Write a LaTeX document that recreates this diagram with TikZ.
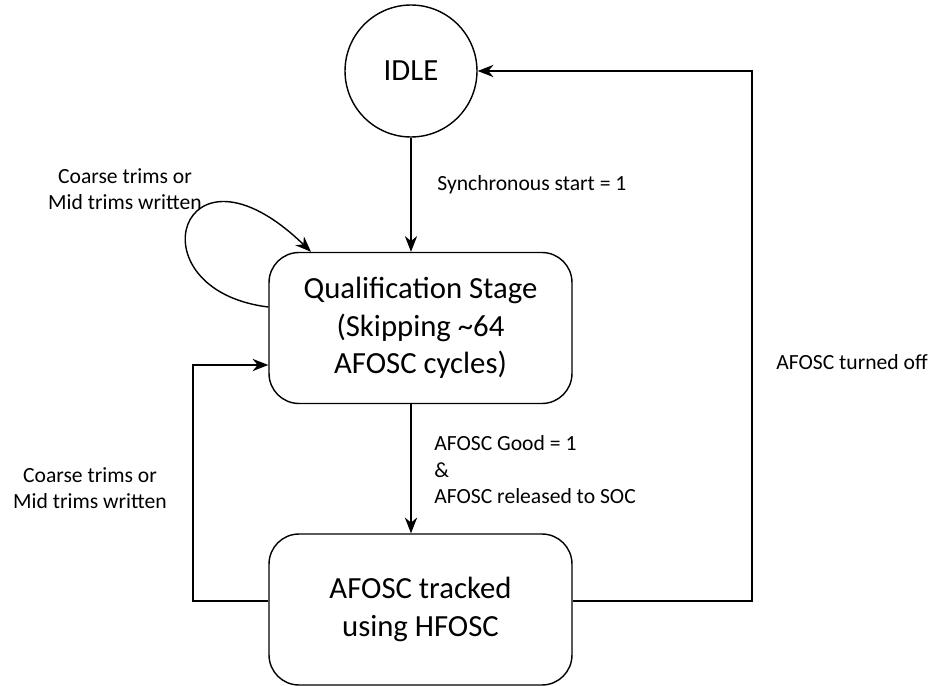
\documentclass[tikz,border=0pt]{standalone}
\usepackage{fontspec}
\setmainfont{Carlito}
\usetikzlibrary{arrows.meta, positioning}

\begin{document}
\begin{tikzpicture}[
  x=0.02cm, y=-0.02cm,
  every node/.style={align=center},
  state/.style={draw, circle, thick, minimum size=2.64cm, inner sep=0pt, font=\fontsize{17.5}{21}\selectfont},
  stage/.style={draw, thick, rounded corners=0.6cm, minimum width=6.06cm, minimum height=3.02cm, inner sep=0pt, font=\fontsize{17.5}{21.3}\selectfont},
  lbl/.style={inner sep=0pt, font=\fontsize{12.3}{15.1}\selectfont},
  arrow/.style={-{Stealth[length=9pt,width=7pt]}, thick}
]
  \useasboundingbox (0,0) rectangle (933,686);

  % States
  \node[state] (idle) at (411,71) {IDLE};
  \node[stage] (qual) at (420.5,328) {Qualification Stage\\(Skipping \textasciitilde 64\\AFOSC cycles)};
  \node[stage] (track) at (420.5,609.5) {AFOSC tracked\\using HFOSC};

  % Corners of the return paths
  \coordinate (rbot) at (752,601);
  \coordinate (rtop) at (752,71);
  \coordinate (lbot) at (193,601);
  \coordinate (ltop) at (193,365);
  \coordinate (loopout) at (0,307);
  \coordinate (loopin) at (311,0);

  % Transitions
  \draw[arrow] (idle) -- (idle.south |- qual.north);
  \draw[arrow] (qual.south -| idle) -- (idle |- track.north);
  \draw[arrow] (track.east |- rbot) -- (rbot) -- (rtop) -- (idle.east);
  \draw[arrow] (track.west |- lbot) -- (lbot) -- (ltop) -- (qual.west |- ltop);
  \draw[arrow] (qual.west |- loopout) .. controls (130,290) and (180,125) .. (qual.north -| loopin);

  % Labels
  \node[lbl, anchor=west] (sync) at (437,185) {Synchronous start = 1};
  \node[lbl, anchor=west, align=left] (good) at (434,470) {AFOSC Good = 1\\\&\\AFOSC released to SOC};
  \node[lbl, anchor=west] (off) at (776,362) {AFOSC turned off};
  \node[lbl] (trimsup) at (125,189) {Coarse trims or\\Mid trims written};
  \node[lbl] (trimsdown) at (90,488) {Coarse trims or\\Mid trims written};
\end{tikzpicture}
\end{document}
